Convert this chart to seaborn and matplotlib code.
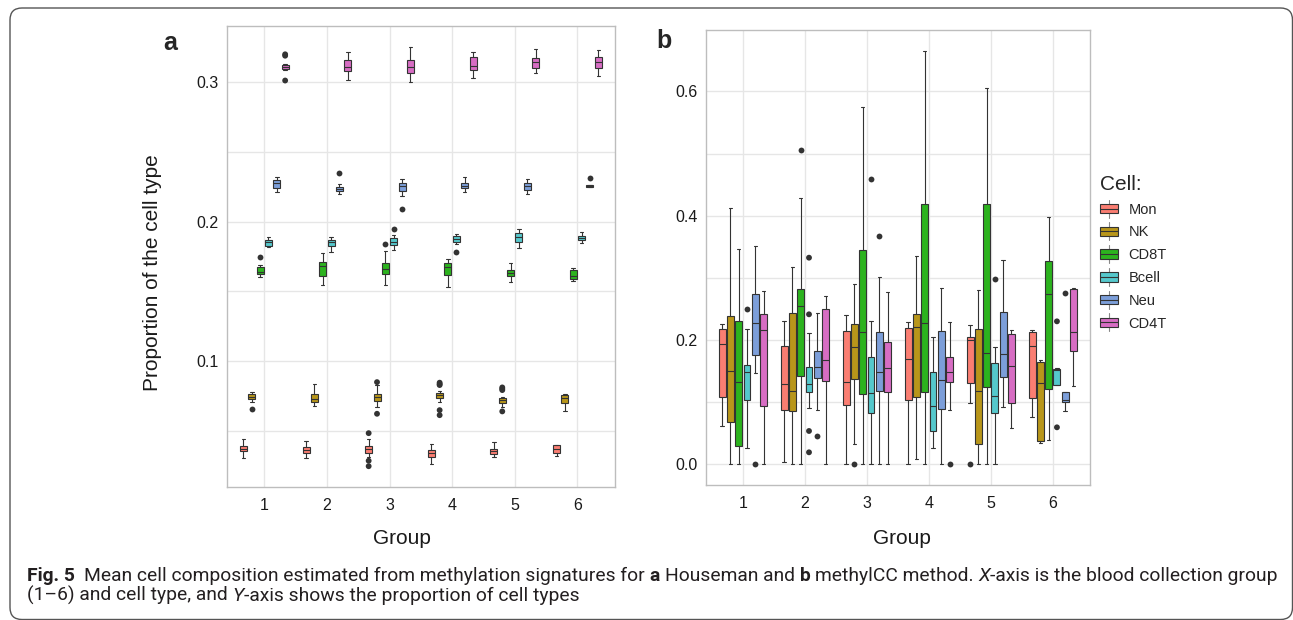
import numpy as np
import pandas as pd
import matplotlib
matplotlib.use("Agg")
import matplotlib.pyplot as plt
import seaborn as sns
from matplotlib.patches import Patch, Rectangle, FancyBboxPatch
from matplotlib.lines import Line2D
from matplotlib.legend_handler import HandlerBase
from matplotlib.ticker import MultipleLocator, FixedLocator, FormatStrFormatter

# ---------------- data ----------------
groups = ["1", "2", "3", "4", "5", "6"]
cells = ["Mon", "NK", "CD8T", "Bcell", "Neu", "CD4T"]
cell_colors = ["#FA7E72", "#B8961A", "#2CB31E", "#55C8CC", "#7C9ED9", "#D76DC3"]

# Panel a (Houseman): [lower whisker, Q1, median, Q3, upper whisker] per group
a_mon = [[0.0304, 0.0352, 0.0371, 0.0390, 0.0438], [0.0304, 0.0342, 0.0364, 0.0383, 0.0428],
         [0.0313, 0.0344, 0.0366, 0.0388, 0.0438], [0.0261, 0.0313, 0.0340, 0.0364, 0.0404],
         [0.0313, 0.0330, 0.0352, 0.0371, 0.0416], [0.0316, 0.0344, 0.0371, 0.0395, 0.0395]]
a_nk = [[0.0703, 0.0727, 0.0744, 0.0761, 0.0775], [0.0679, 0.0708, 0.0730, 0.0766, 0.0835],
        [0.0672, 0.0715, 0.0739, 0.0766, 0.0826], [0.0708, 0.0732, 0.0754, 0.0768, 0.0782],
        [0.0670, 0.0701, 0.0720, 0.0734, 0.0744], [0.0639, 0.0701, 0.0732, 0.0758, 0.0763]]
a_cd8t = [[0.1605, 0.1622, 0.1639, 0.1672, 0.1687], [0.1545, 0.1612, 0.1682, 0.1708, 0.1773],
          [0.1545, 0.1622, 0.1663, 0.1706, 0.1789], [0.1529, 0.1620, 0.1672, 0.1701, 0.1730],
          [0.1565, 0.1612, 0.1632, 0.1651, 0.1701], [0.1574, 0.1586, 0.1610, 0.1653, 0.1665]]
a_bcell = [[0.1820, 0.1825, 0.1854, 0.1871, 0.1888], [0.1785, 0.1823, 0.1852, 0.1871, 0.1892],
           [0.1797, 0.1835, 0.1856, 0.1880, 0.1904], [0.1837, 0.1852, 0.1876, 0.1895, 0.1914],
           [0.1809, 0.1852, 0.1888, 0.1916, 0.1945], [0.1850, 0.1867, 0.1883, 0.1900, 0.1923]]
a_neu = [[0.2211, 0.2244, 0.2275, 0.2297, 0.2323], [0.2196, 0.2220, 0.2237, 0.2251, 0.2273],
         [0.2187, 0.2222, 0.2256, 0.2280, 0.2309], [0.2213, 0.2239, 0.2258, 0.2275, 0.2323],
         [0.2196, 0.2224, 0.2258, 0.2280, 0.2303], [0.2249, 0.2251, 0.2258, 0.2263, 0.2265]]
a_cd4t = [[0.3091, 0.3093, 0.3108, 0.3124, 0.3129], [0.3017, 0.3081, 0.3110, 0.3158, 0.3215],
          [0.2998, 0.3069, 0.3110, 0.3156, 0.3249], [0.3033, 0.3084, 0.3117, 0.3182, 0.3213],
          [0.3069, 0.3105, 0.3144, 0.3177, 0.3237], [0.3048, 0.3100, 0.3146, 0.3184, 0.3234]]
# outliers per group
a_mon_out = [[], [], [0.0483, 0.0285, 0.0246], [], [], []]
a_nk_out = [[0.0658], [], [0.0849, 0.0622], [0.0845, 0.0835, 0.0828, 0.0648, 0.0612],
            [0.0811, 0.0801, 0.0792, 0.0639], []]
a_cd8t_out = [[0.1749], [], [0.1840], [], [], []]
a_bcell_out = [[], [], [0.1945], [0.1782], [], []]
a_neu_out = [[], [0.2352], [0.2089], [], [], [0.2313]]
a_cd4t_out = [[0.3200, 0.3190, 0.3012], [], [], [], [], []]

# Panel b (methylCC)
b_mon = [[0.0617, 0.1083, 0.1930, 0.2182, 0.2257], [0.0038, 0.0869, 0.1292, 0.1898, 0.2311],
         [0.0, 0.0949, 0.1330, 0.2139, 0.2402], [0.0, 0.1029, 0.1700, 0.2198, 0.2295],
         [0.0981, 0.1308, 0.2000, 0.2043, 0.2241], [0.0767, 0.1062, 0.1909, 0.2129, 0.2161]]
b_nk = [[0.0, 0.0681, 0.1507, 0.2386, 0.4123], [0.0, 0.0853, 0.1180, 0.2429, 0.3180],
        [0.0322, 0.1367, 0.1893, 0.2257, 0.2895], [0.0091, 0.1083, 0.2214, 0.2413, 0.3351],
        [0.0, 0.0322, 0.1174, 0.2182, 0.2799], [0.0349, 0.0370, 0.1314, 0.1646, 0.1678]]
b_cd8t = [[0.0, 0.0290, 0.1319, 0.2300, 0.3469], [0.0, 0.1426, 0.2552, 0.2815, 0.4284],
          [0.0, 0.1126, 0.2123, 0.3442, 0.5748], [0.0, 0.1158, 0.2268, 0.4193, 0.6654],
          [0.0, 0.1239, 0.1786, 0.4182, 0.6054], [0.0391, 0.1217, 0.2745, 0.3271, 0.3979]]
b_bcell = [[0.0268, 0.1040, 0.1491, 0.1598, 0.2177], [0.0901, 0.1158, 0.1292, 0.1560, 0.2118],
           [0.0, 0.0826, 0.1142, 0.1727, 0.2306], [0.0268, 0.0531, 0.0938, 0.1480, 0.2043],
           [0.0, 0.0826, 0.1099, 0.1625, 0.1893], [0.1276, 0.1276, 0.1517, 0.1539, 0.1550]]
b_neu = [[0.1475, 0.1753, 0.2273, 0.2735, 0.3517], [0.0874, 0.1394, 0.1566, 0.1823, 0.2429],
         [0.0, 0.1174, 0.1491, 0.2123, 0.3008], [0.0, 0.0895, 0.1362, 0.2145, 0.2831],
         [0.0917, 0.1399, 0.1780, 0.2456, 0.3292], [0.0853, 0.0997, 0.1029, 0.1169, 0.1169]]
b_cd4t = [[0.0, 0.0944, 0.2155, 0.2424, 0.2788], [0.0, 0.1340, 0.1678, 0.2499, 0.2713],
          [0.0, 0.1169, 0.1544, 0.1962, 0.2767], [0.0874, 0.1319, 0.1491, 0.1721, 0.2295],
          [0.0590, 0.0992, 0.1582, 0.2102, 0.2161], [0.1265, 0.1818, 0.2123, 0.2820, 0.2842]]
b_mon_out = [[], [], [], [], [0.0], []]
b_nk_out = [[], [], [0.0], [], [], []]
b_cd8t_out = [[], [0.5062], [], [], [], []]
b_bcell_out = [[0.2499], [0.3324, 0.2413, 0.0536, 0.0193], [0.4590], [], [0.2987], [0.2300, 0.0595]]
b_neu_out = [[0.0], [0.0450], [0.3678], [], [], [0.2761]]
b_cd4t_out = [[], [], [], [0.0], [], []]

y_label = "Proportion of the cell type"
x_label = "Group"
legend_title = "Cell:"
a_yticks = [0.1, 0.2, 0.3]
b_yticks = [0.0, 0.2, 0.4, 0.6]


def to_long(per_cell):
    rows = []
    for cell, per_group in zip(cells, per_cell):
        for g, vals in zip(groups, per_group):
            for v in vals:
                rows.append((g, cell, v))
    return pd.DataFrame(rows, columns=["Group", "Cell", "Proportion"])


df_a = to_long([a_mon, a_nk, a_cd8t, a_bcell, a_neu, a_cd4t])
out_a = to_long([a_mon_out, a_nk_out, a_cd8t_out, a_bcell_out, a_neu_out, a_cd4t_out])
df_b = to_long([b_mon, b_nk, b_cd8t, b_bcell, b_neu, b_cd4t])
out_b = to_long([b_mon_out, b_nk_out, b_cd8t_out, b_bcell_out, b_neu_out, b_cd4t_out])

# ---------------- style ----------------
sns.set_style("white")
plt.rcParams["font.family"] = ["Liberation Sans", "DejaVu Sans"]

W, H = 1293, 620
fig = plt.figure(figsize=(W / 100, H / 100), dpi=100)
fig.patch.set_facecolor("white")

LINE = "#333333"
GRID = "#E6E6E6"
BORDER = "#BDBDBD"


def px_axes(x0, y0, x1, y1):
    return fig.add_axes([x0 / W, 1 - y1 / H, (x1 - x0) / W, (y1 - y0) / H])


ax_a = px_axes(226.7, 26.0, 615.0, 486.7)
ax_b = px_axes(705.7, 30.0, 1090.0, 485.0)


def draw_panel(ax, df, out, ylim, yticks, minor):
    sns.boxplot(data=df, x="Group", y="Proportion", hue="Cell", order=groups,
                hue_order=cells, palette=cell_colors, saturation=1, whis=(0, 100),
                showfliers=False, width=0.8, gap=0.16, linecolor=LINE, linewidth=0.8,
                legend=False, ax=ax)
    sns.stripplot(data=out, x="Group", y="Proportion", hue="Cell", order=groups,
                  hue_order=cells, palette=[LINE] * len(cells), dodge=True, jitter=False,
                  size=4.2, linewidth=0, legend=False, ax=ax)
    ax.set_xlim(-0.6, 5.6)
    ax.set_ylim(*ylim)
    ax.yaxis.set_major_locator(FixedLocator(yticks))
    ax.yaxis.set_minor_locator(MultipleLocator(minor))
    ax.yaxis.set_major_formatter(FormatStrFormatter("%.1f"))
    ax.set_axisbelow(True)
    ax.grid(True, which="both", axis="y", color=GRID, lw=1.0)
    ax.grid(True, which="major", axis="x", color=GRID, lw=1.0)
    for s in ax.spines.values():
        s.set_visible(True)
        s.set_color(BORDER)
        s.set_linewidth(1.0)
    ax.tick_params(axis="both", which="major", length=3, width=0.8, color=BORDER,
                   labelsize=11.5, labelcolor="#1a1a1a")
    ax.tick_params(axis="x", pad=5)
    ax.tick_params(axis="y", pad=3)
    ax.tick_params(which="minor", length=0)
    ax.set_ylabel("")
    ax.set_xlabel(x_label, fontsize=15, color="#1a1a1a", va="center")


draw_panel(ax_a, df_a, out_a, (0.0099, 0.3403), a_yticks, 0.05)
draw_panel(ax_b, df_b, out_b, (-0.0333, 0.6987), b_yticks, 0.1)

ax_a.xaxis.set_label_coords((401.7 - 226.7) / 388.3, (486.7 - 539) / 460.7)
ax_b.xaxis.set_label_coords((901.7 - 705.7) / 384.3, (485.0 - 539) / 455.0)
ax_a.set_ylabel(y_label, fontsize=15, color="#1a1a1a", va="center")
ax_a.yaxis.set_label_coords((153 - 226.7) / 388.3, (486.7 - 273) / 460.7)

fig.text(170 / W, 1 - 50 / H, "a", fontsize=18, fontweight="bold", ha="center", va="baseline")
fig.text(664 / W, 1 - 48 / H, "b", fontsize=18, fontweight="bold", ha="center", va="baseline")


# ---------------- legend ----------------
class BoxKey(HandlerBase):
    def create_artists(self, legend, orig_handle, xdescent, ydescent, width, height,
                       fontsize, trans):
        x0, y0 = -xdescent, -ydescent
        cx = x0 + width / 2
        bot, top = y0 + height * 0.05, y0 + height * 0.95
        arts = [
            Line2D([cx, cx], [y0 - height * 0.35, bot], color="#888888", lw=0.8, transform=trans),
            Line2D([cx, cx], [top, y0 + height * 1.35], color="#888888", lw=0.8, transform=trans),
            Rectangle((x0, bot), width, top - bot, facecolor=orig_handle.get_facecolor(),
                      edgecolor=LINE, lw=0.8, transform=trans),
            Line2D([x0, x0 + width], [y0 + height / 2] * 2, color=LINE, lw=0.8, transform=trans),
        ]
        return arts


handles = [Patch(facecolor=c) for c in cell_colors]
leg = fig.legend(handles, cells, title=legend_title, loc="upper left",
                 bbox_to_anchor=(1100 / W, 1 - 175 / H), frameon=False, fontsize=10.5,
                 title_fontsize=15, handler_map={Patch: BoxKey()}, handlelength=1.2,
                 handleheight=0.75, handletextpad=0.75, labelspacing=0.6, borderpad=0,
                 borderaxespad=0, alignment="left")

# ---------------- frame ----------------
frame = FancyBboxPatch((10 / 100, (H - 619.5) / 100), (1292.5 - 10) / 100, (619.5 - 8) / 100,
                       boxstyle="round,pad=0,rounding_size=0.12",
                       transform=fig.dpi_scale_trans, facecolor="none",
                       edgecolor="#555555", lw=1.0, clip_on=False)
fig.add_artist(frame)

# ---------------- caption ----------------
CAP_FAMILY = ["Roboto", "DejaVu Sans"]
CAP_COLOR = "#231f20"
renderer = fig.canvas.get_renderer()


def text_width(txt, size, weight="normal", style="normal"):
    t = fig.text(0, 0, txt, fontsize=size, fontweight=weight, fontstyle=style, family=CAP_FAMILY)
    w = t.get_window_extent(renderer).width
    t.remove()
    return w


# segments: (text, weight, style, spaces after)
line1 = [("Fig. 5", "bold", "normal", 2),
         ("Mean cell composition estimated from methylation signatures for", "normal", "normal", 1),
         ("a", "bold", "normal", 1), ("Houseman and", "normal", "normal", 1),
         ("b", "bold", "normal", 1), ("methylCC method.", "normal", "normal", 1),
         ("X", "normal", "italic", 0), ("-axis is the blood collection group", "normal", "normal", 0)]
line2 = [("(1–6) and cell type, and", "normal", "normal", 1), ("Y", "normal", "italic", 0),
         ("-axis shows the proportion of cell types", "normal", "normal", 0)]


def line_width(segs, size):
    sp = text_width("a a", size) - text_width("aa", size)
    return sum(text_width(t, size, w, s) + n * sp for t, w, s, n in segs)


base = 10.0
cap_size = base * (1278 - 27) / line_width(line1, base)


def draw_line(segs, x_px, y_px, size):
    sp = text_width("a a", size) - text_width("aa", size)
    x = x_px
    for t, w, s, n in segs:
        fig.text(x / W, 1 - y_px / H, t, fontsize=size, fontweight=w, fontstyle=s,
                 family=CAP_FAMILY, color=CAP_COLOR, ha="left", va="baseline")
        x += text_width(t, size, w, s) + n * sp


draw_line(line1, 27, 581, cap_size)
draw_line(line2, 27, 601, cap_size)

fig.savefig("out.png", dpi=100, facecolor="white")
